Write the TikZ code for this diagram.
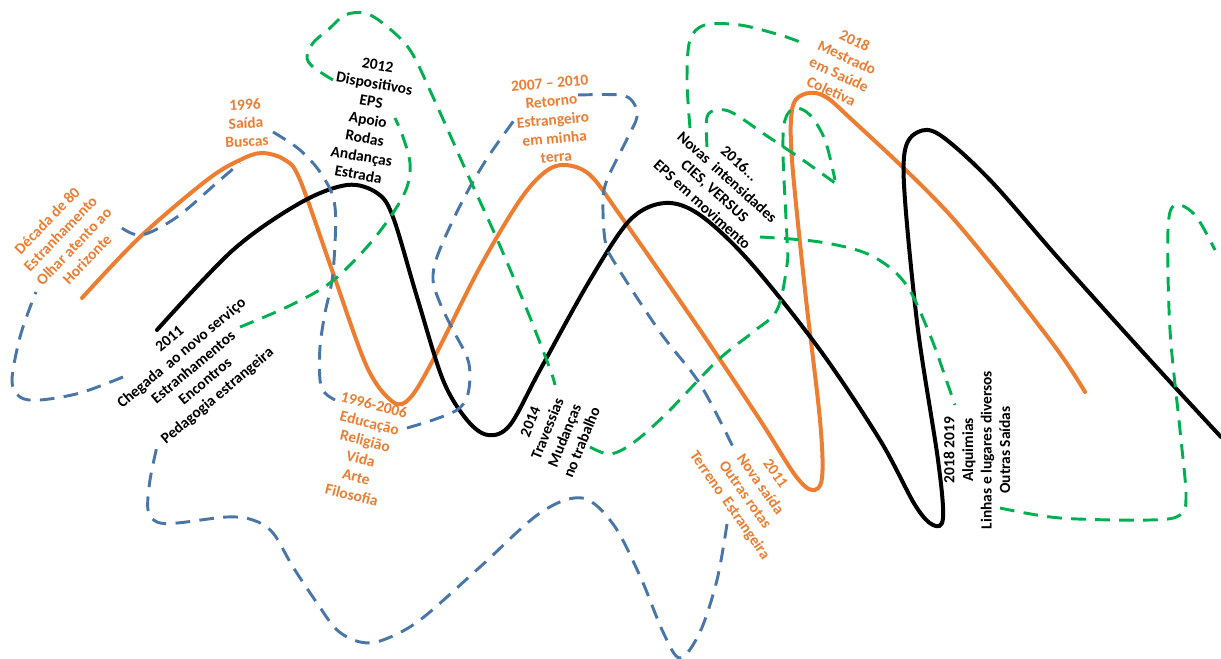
\documentclass[tikz,border=0pt]{standalone}
\usepackage{fontspec}
\setmainfont{Carlito}
\usepackage{tikz}
\usetikzlibrary{positioning}

\definecolor{laranja}{RGB}{237,125,49}
\definecolor{azul}{RGB}{72,118,168}
\definecolor{verde}{RGB}{0,176,80}

\begin{document}
\begin{tikzpicture}[x=0.75pt,y=-0.75pt,
  every node/.style={align=center,font=\fontsize{11.6}{13.9}\selectfont\bfseries,inner sep=0pt},
  linha/.style={line width=3pt,line cap=round},
  tracejado/.style={line width=2.2pt,dash pattern=on 11pt off 7pt},
  suave/.style={smooth,tension=0.55}]
\useasboundingbox (0,0) rectangle (1221,659);

\draw[linha,laranja] plot[suave] coordinates {(82,298) (140,237) (207,180) (240,160) (262,153) (285,160) (300,180) (333,273) (367,367) (393,402) (410,398) (433,360) (480,267) (520,200) (545,172) (565,165) (590,175) (620,215) (700,330) (760,420) (795,475) (812,490) (822,478) (820,420) (805,290) (792,160) (792,110) (802,95) (822,95) (850,118) (950,215) (1050,340) (1085,392)};

\draw[linha,black] plot[suave] coordinates {(157,330) (233,250) (300,203) (347,185) (377,193) (393,217) (417,297) (443,380) (467,420) (488,435) (510,425) (540,370) (590,280) (630,220) (665,203) (700,215) (750,262) (820,350) (880,440) (915,505) (933,525) (943,518) (938,460) (918,330) (905,200) (905,150) (918,132) (940,135) (990,180) (1060,260) (1150,360) (1221,437)};

\draw[tracejado,azul] plot[suave] coordinates {(122,228) (142,235) (177,217) (220,180) (240,163)};
\draw[tracejado,azul] plot[suave] coordinates {(273,132) (300,150) (322,175) (335,207) (333,273) (325,313) (320,347) (320,380) (325,393) (335,400)};
\draw[tracejado,azul] plot[suave] coordinates {(407,428) (433,420) (457,410) (467,397) (470,376) (467,357) (453,330) (440,303) (433,280) (437,257) (453,220) (470,187) (490,154) (518,115)};
\draw[tracejado,azul] plot[suave] coordinates {(578,95) (620,95) (633,102) (637,117) (627,139) (607,180) (603,202) (605,240) (613,260) (660,332) (700,384) (733,447)};
\draw[tracejado,azul] plot[suave] coordinates {(727,524) (717,580) (700,632) (680,658) (663,632) (640,576) (613,524) (582,498) (540,513) (480,567) (420,620) (383,640) (360,642) (337,630) (317,603) (293,567) (273,533) (253,520) (227,517) (177,523) (157,522) (148,510) (150,480) (158,442)};
\draw[tracejado,azul] plot[suave] coordinates {(123,377) (80,393) (40,400) (20,397) (12,380) (20,337) (32,302) (36,292)};

\draw[tracejado,verde] plot[suave] coordinates {(240,327) (287,307) (330,283) (367,247) (393,213) (407,187) (410,163) (403,137) (395,118)};
\draw[tracejado,verde] plot[suave] coordinates {(333,80) (313,67) (307,57) (313,43) (330,28) (345,15) (365,13) (385,25) (410,50) (433,97) (467,173) (497,239) (527,310) (550,369) (555,385)};
\draw[tracejado,verde] plot[suave] coordinates {(590,447) (610,454) (633,443) (667,413) (717,361) (753,332) (777,310) (787,265) (787,239) (783,154) (785,120) (795,108) (810,115) (825,140) (835,180)};
\draw[tracejado,verde] plot[suave] coordinates {(707,147) (707,117) (717,110) (733,113) (767,136) (800,158) (835,183)};
\draw[tracejado,verde] plot[suave] coordinates {(690,128) (687,80) (690,40) (705,25) (740,25) (780,35) (800,42)};
\draw[tracejado,verde] plot[suave] coordinates {(760,237) (820,242) (870,255) (905,283) (930,335) (948,385) (955,405)};
\draw[tracejado,verde] plot[suave] coordinates {(1000,508) (1060,518) (1150,520) (1180,515) (1186,495) (1180,430) (1170,330) (1168,230) (1175,205) (1195,215) (1215,250)};

\node[laranja,rotate=46] (decada) at (67,240) {Década de 80\\Estranhamento\\Olhar atento ao\\Horizonte};
\node[laranja,rotate=3] (saida) at (246,123) {1996\\Saída\\Buscas};
\node[rotate=40] (chegada) at (194,368) {2011\\Chegada\ \ ao novo serviço\\Estranhamentos\\Encontros\\Pedagogia estrangeira};
\node[rotate=-10] (dispositivos) at (368,120) {2012\\Dispositivos\\EPS\\Apoio\\Rodas\\Andanças\\Estrada};
\node[laranja,rotate=-14] (educacao) at (363,450) {1996-2006\\Educação\\Religião\\Vida\\Arte\\Filosofia};
\node[laranja,rotate=5] (retorno) at (553,120) {2007 – 2010\\Retorno\\Estrangeiro\\em minha\\terra};
\node[rotate=68] (travessias) at (556,432) {2014\\Travessias\\Mudanças\\no trabalho};
\node[rotate=-42] (intensidades) at (721,184) {2016...\\Novas\ \ intensidades\\CIES, VERSUS\\EPS em movimento};
\node[laranja,rotate=-55] (novasaida) at (752,490) {2011\\Nova saída\\Outras rotas\\Terreno\ \ Estrangeira};
\node[laranja,rotate=-25] (mestrado) at (843,66) {2018\\Mestrado\\em Saúde\\Coletiva};
\node[rotate=90] (alquimias) at (977,450) {2018 2019\\Alquimias\\Linhas e lugares diversos\\Outras Saídas};
\end{tikzpicture}
\end{document}
